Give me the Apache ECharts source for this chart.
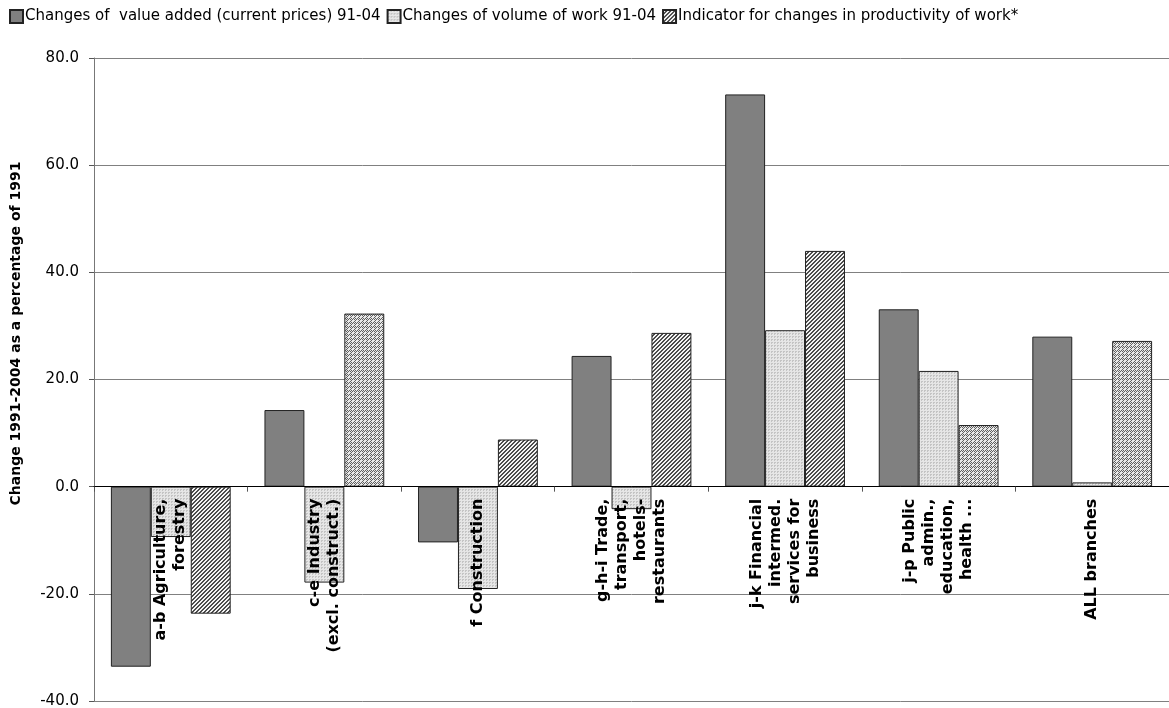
<!DOCTYPE html>
<html>
<head>
<meta charset="utf-8">
<script src="https://cdn.jsdelivr.net/npm/echarts@6/dist/echarts.min.js"></script>
<style>
  html, body { margin: 0; padding: 0; background: #fff; }
  #chart { width: 1169px; height: 708px; }
</style>
</head>
<body>
<div id="chart"></div>
<script>
// branches
var categories = [
  'a-b Agriculture,\nforestry',
  'c-e Industry\n(excl. construct.)',
  'f Construction',
  'g-h-i Trade,\ntransport,\nhotels-\nrestaurants',
  'j-k Financial\nintermed.\nservices for\nbusiness',
  'j-p Public\nadmin.,\neducation,\nhealth ...',
  'ALL branches'
];
var seriesNames = [
  'Changes of  value added (current prices) 91-04',
  'Changes of volume of work 91-04',
  'Indicator for changes in productivity of work*'
];
var valueAdded = [-33.6, 14.3, -10.4, 24.4, 73.2, 33.1, 28.0];
var volumeWork = [-9.4, -17.9, -19.1, -4.2, 29.2, 21.6, 0.8];
var productivity = [-23.7, 32.3, 8.8, 28.7, 44.0, 11.5, 27.2];
// bars of the 3rd series drawn with the lighter hatch in the original
var lightHatch = [1, 5, 6];

var yMin = -40, yMax = 80;
var gridTop = 58, gridBottom = 7, chartH = 708;

// small pattern tiles
function tile(size, bg, fg, pts) {
  var c = document.createElement('canvas');
  c.width = size; c.height = size;
  var g = c.getContext('2d');
  g.fillStyle = bg; g.fillRect(0, 0, size, size);
  g.fillStyle = fg;
  pts.forEach(function (p) { g.fillRect(p[0], p[1], 1, 1); });
  return { image: c, repeat: 'repeat' };
}
var dotted = tile(3, '#e6e6e6', '#c4c4c4', [[0, 0], [1, 0], [0, 1]]);
var hatchDark = tile(4, '#f4f4f4', '#4c4c4c', [[0, 3], [1, 2], [2, 1], [3, 0], [0, 0], [1, 3], [2, 2], [3, 1]]);
var hatchLight = tile(4, '#e8e8e8', '#606060', [[0, 3], [1, 2], [2, 1], [3, 0], [2, 3], [3, 2]]);

// x axis sits on the zero line: shift it up from the bottom of the grid
var plotH = chartH - gridTop - gridBottom;
var zeroOffset = -plotH * (0 - yMin) / (yMax - yMin);

var chart = echarts.init(document.getElementById('chart'));
var border = { borderColor: '#222', borderWidth: 1 };

chart.setOption({
  animation: false,
  textStyle: { fontFamily: 'DejaVu Sans', color: '#000' },
  legend: {
    left: 4,
    top: 4,
    icon: 'rect',
    itemWidth: 13,
    itemHeight: 13,
    itemGap: 6,
    textStyle: { fontSize: 15, color: '#000', fontFamily: 'DejaVu Sans', padding: [0, 0, 0, -3] },
    data: seriesNames
  },
  grid: { left: 94, right: 0, top: gridTop, bottom: gridBottom, outerBoundsMode: 'none' },
  xAxis: {
    type: 'category',
    data: categories,
    z: 10,
    offset: zeroOffset,
    axisLine: { onZero: false, lineStyle: { color: '#000', width: 1 } },
    axisTick: { show: true, length: 5, lineStyle: { color: '#555' } },
    axisLabel: {
      rotate: 90,
      margin: 12,
      interval: 0,
      fontSize: 16,
      fontWeight: 'bold',
      color: '#000',
      lineHeight: 19
    }
  },
  yAxis: {
    type: 'value',
    min: yMin,
    max: yMax,
    interval: 20,
    name: 'Change 1991-2004 as a percentage of 1991',
    nameLocation: 'middle',
    nameGap: 71,
    // shifted up along the axis, as in the original
    nameTextStyle: { fontSize: 14, fontWeight: 'bold', color: '#000', padding: [0, 0, 0, 92] },
    axisLine: { show: true, lineStyle: { color: '#777' } },
    axisTick: { show: true, length: 5, lineStyle: { color: '#555' } },
    axisLabel: {
      fontSize: 15,
      color: '#000',
      margin: 15,
      formatter: function (v) { return v.toFixed(1); }
    },
    splitLine: { lineStyle: { color: '#808080', width: 1 } }
  },
  series: [
    {
      name: seriesNames[0],
      type: 'bar',
      barGap: '0%',
      barCategoryGap: '22%',
      itemStyle: Object.assign({ color: '#808080' }, border),
      data: valueAdded
    },
    {
      name: seriesNames[1],
      type: 'bar',
      itemStyle: Object.assign({ color: dotted }, border),
      data: volumeWork
    },
    {
      name: seriesNames[2],
      type: 'bar',
      itemStyle: Object.assign({ color: hatchDark }, border),
      data: productivity.map(function (v, i) {
        return lightHatch.indexOf(i) >= 0
          ? { value: v, itemStyle: { color: hatchLight } }
          : v;
      })
    }
  ]
});
</script>
</body>
</html>
